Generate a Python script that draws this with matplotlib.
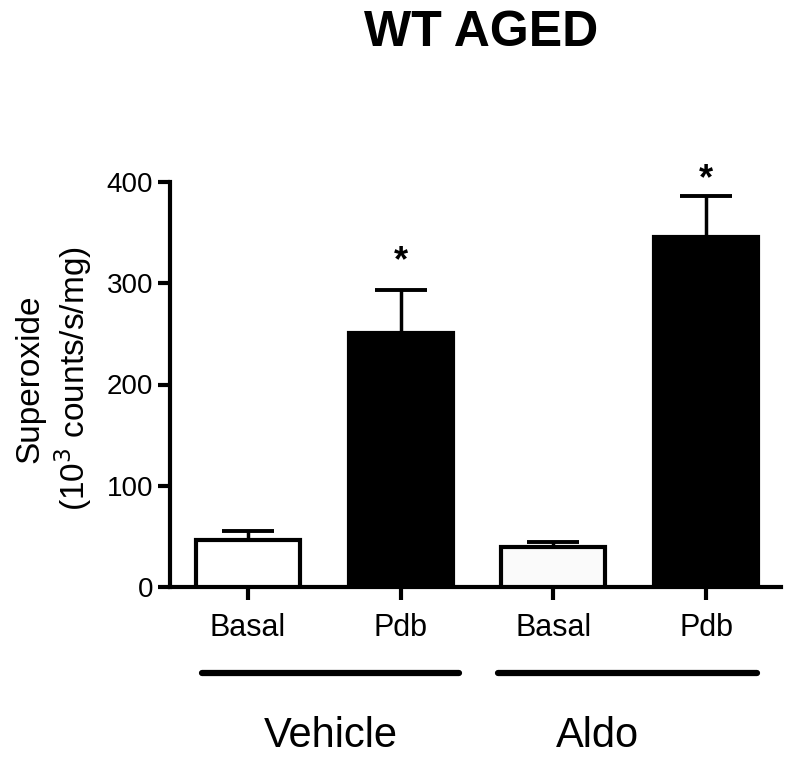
import matplotlib
matplotlib.use("Agg")
import matplotlib.pyplot as plt
import numpy as np

plt.rcParams['font.family'] = ['Liberation Sans', 'DejaVu Sans']

# ---- data ----
conditions = ["Basal", "Pdb", "Basal", "Pdb"]
means = [46, 251, 40, 346]
sem = [9, 42, 4, 40]
significant = [False, True, False, True]
groups = ["Vehicle", "Aldo"]
yticks = [0, 100, 200, 300, 400]

fills = ["white", "black", "#fafafa", "black"]

fig = plt.figure(figsize=(8.0, 7.71), dpi=100)
ax = fig.add_axes([170/800, 1-587/771, (781-170)/800, (587-182)/771])

x = np.arange(len(means))
ax.bar(x, means, width=0.68, color=fills, edgecolor="black", linewidth=3, zorder=3)
ax.errorbar(x, means, yerr=[np.zeros(len(sem)), sem], fmt="none", ecolor="black",
            elinewidth=2.5, capsize=19, capthick=2.8, zorder=2)

star_offsets = [0, 8, 0, -1]
for xi, m, s, sig, off in zip(x, means, sem, significant, star_offsets):
    if sig:
        ax.annotate("*", xy=(xi, m + s), xytext=(0, off), textcoords="offset points",
                    ha="center", va="bottom", fontsize=26, fontweight="bold",
                    annotation_clip=False)

ax.set_xlim(-0.51, 3.49)
ax.set_ylim(0, 400)
ax.set_yticks(yticks)
ax.set_yticklabels([str(t) for t in yticks], fontsize=20)
ax.set_xticks(x)
ax.set_xticklabels(conditions, fontsize=22)

for side in ["top", "right"]:
    ax.spines[side].set_visible(False)
for side in ["left", "bottom"]:
    ax.spines[side].set_linewidth(3)
ax.tick_params(axis="y", length=9, width=3, pad=3)
ax.tick_params(axis="x", length=9, width=3, pad=10)

# group lines and labels
group_spans = [(-0.30, 1.38), (1.64, 3.33)]
group_label_x = [0.54, 2.29]
trans = ax.get_xaxis_transform()
for (a, b), gx, g in zip(group_spans, group_label_x, groups):
    ax.plot([a, b], [-0.212, -0.212], color="black", lw=4.5, solid_capstyle="round",
            transform=trans, clip_on=False)
    ax.text(gx, -0.367, g, transform=trans, ha="center", va="center", fontsize=30)

fig.text(54/800, 1-379/771, "Superoxide\n(10$^3$ counts/s/mg)", rotation=90,
         ha="center", va="center", multialignment="center", fontsize=24)
fig.text(481/800, 1-33/771, "WT AGED", ha="center", va="center", fontsize=36,
         fontweight="bold")

fig.savefig("out.png", dpi=100)
